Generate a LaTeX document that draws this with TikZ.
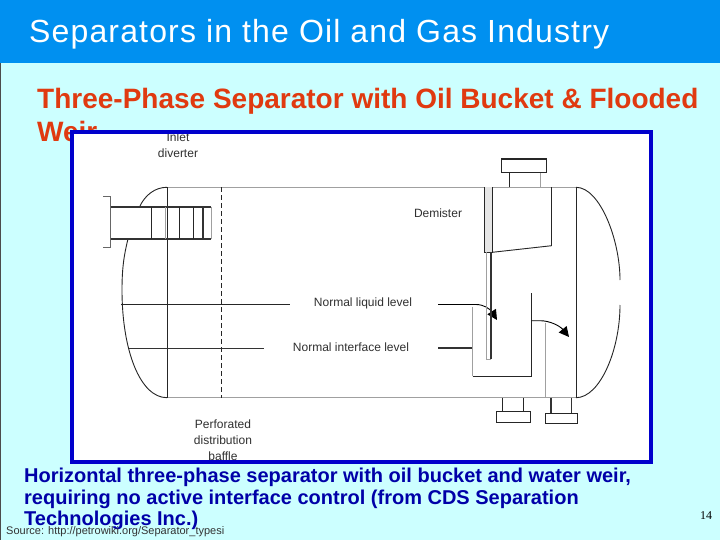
\documentclass[tikz,border=0pt]{standalone}
\usepackage{fontspec}
\setmainfont{Liberation Sans}
\newfontfamily\numfont{Liberation Serif}
\usetikzlibrary{arrows.meta}
\definecolor{slideBg}{HTML}{CCFFFF}
\definecolor{barBlue}{HTML}{0090F0}
\definecolor{frameBlue}{HTML}{0000CC}
\definecolor{headRed}{HTML}{E03A10}
\definecolor{capBlue}{HTML}{0000A8}
\definecolor{wallGrey}{HTML}{A0A0A0}
\definecolor{labelGrey}{HTML}{303030}

\begin{document}
\begin{tikzpicture}[x=1pt, y=-1pt,
  wall/.style={line width=0.9pt, black!85},
  greywall/.style={line width=1pt, wallGrey},
  thickwall/.style={line width=1.3pt, black!80},
  flow/.style={line width=0.9pt, black, -{Triangle[length=10pt,width=10pt]}},
  tag/.style={font=\fontsize{12}{16}\selectfont, text=labelGrey, inner sep=0pt, align=center},
  heading/.style={font=\fontsize{28}{32}\selectfont\bfseries, text=headRed, inner sep=0pt, anchor=base west},
  caption/.style={font=\fontsize{20}{22}\selectfont\bfseries, text=capBlue, inner sep=0pt, anchor=base west}]
  \useasboundingbox (0,0) rectangle (720,540);
  % slide background
  \fill[slideBg] (0,0) rectangle (720,540);
  \fill[barBlue] (0,0) rectangle (720,63);
  \draw[line width=1pt, black!70] (0.5,63) -- (0.5,540);
  \node[font=\fontsize{32}{36}\selectfont\addfontfeature{LetterSpace=3.6}, text=white, inner sep=0pt, anchor=base west] (title) at (29,42.3)
    {Separators in the Oil and Gas Industry};
  \node[heading] (head1) at (37,109) {Three-Phase Separator with Oil Bucket \& Flooded};
  \node[heading] (head2) at (37,141.7) {Weir};
  % picture panel
  \fill[white] (72,132) rectangle (650.7,462);
  % labels
  \node[tag] (inlet) at (178,145) {Inlet\\diverter};
  \node[tag] (demister) at (438,213) {Demister};
  \node[tag] (liquid) at (363,303) {Normal liquid level};
  \node[tag] (interface) at (351,347) {Normal interface level};
  \node[tag] (baffle) at (223,440) {Perforated\\distribution\\baffle};
  % vessel
  \draw[greywall] (167,187.3) -- (576,187.3);
  \draw[greywall, line width=1.2pt] (167,397.7) -- (576,397.7);
  \draw[wall, line width=0.7pt] (167,187.3) -- (167,397.7);
  \draw[wall, line width=0.7pt] (576,187.3) -- (576,397.7);
  \draw[wall] (167,187.3) .. controls (155,187.3) and (145,195) .. (139.5,207);
  \draw[wall] (128,239) .. controls (124,255) and (122,268) .. (122,290)
    .. controls (122,350) and (140,397.7) .. (167,397.7);
  \draw[wall] (576,187.3) .. controls (600,187.3) and (620,240) .. (620,280);
  \draw[wall] (620,305) .. controls (620,350) and (600,397.7) .. (576,397.7);
  % inlet nozzle and diverter
  \draw[thickwall] (211,207) -- (110.6,207) -- (110.6,239) -- (211,239);
  \draw[wall] (151.3,207) -- (151.3,239);
  \draw[greywall] (165,207) -- (165,239);
  \draw[wall] (179,207) -- (179,239);
  \draw[wall, line width=0.7pt] (193.5,207) -- (193.5,239);
  \draw[thickwall, line width=1.5pt] (203,207) -- (203,239);
  \draw[greywall] (211,207) -- (211,239);
  \draw[line width=0.7pt, black!60] (103,196.5) -- (110.6,196.5) -- (110.6,247.5) -- (103,247.5);
  % baffle
  \draw[wall, dash pattern=on 5pt off 3pt] (221.7,187.3) -- (221.7,397.7);
  % levels
  \draw[wall] (121,304.3) -- (290,304.3);
  \draw[thickwall] (129,348.7) -- (264,348.7);
  \draw[flow] (438,304.5) -- (476,304.5) .. controls (484,304.5) and (490,309) .. (497,320);
  \draw[thickwall] (438,348) -- (472.7,348);
  % demister, plate, bucket, weir
  \fill[black!10] (484.3,187.3) rectangle (492.3,252.3);
  \draw[wall, line width=0.7pt] (484.3,187.3) -- (484.3,252.3) -- (492.3,252.3) -- (492.3,187.3);
  \draw[wall] (492.3,252.3) -- (551.7,245.7);
  \draw[wall, line width=0.7pt] (551.7,245.7) -- (551.7,187.3);
  \draw[greywall, line width=0.8pt] (486.3,252.3) -- (486.3,359.3) -- (491,359.3);
  \draw[thickwall] (491,252.3) -- (491,359.3);
  \draw[greywall] (472.7,306.7) -- (472.7,376);
  \draw[wall] (472.7,376) -- (531.7,376) -- (531.7,293);
  \draw[flow] (531.7,320.7) -- (540,320.7) .. controls (550,320.7) and (560,326) .. (569,337);
  \draw[greywall] (545.7,322.7) -- (545.7,397.7);
  % outlet nozzles
  \draw[wall] (509.7,173) -- (509.7,187.3);
  \draw[greywall] (540,173) -- (540,187.3);
  \draw[wall, line width=1.1pt] (501.3,159) rectangle (546.7,172.7);
  \draw[wall, line width=0.7pt] (502.3,397.7) -- (502.3,411.7);
  \draw[wall, line width=0.7pt] (523.7,397.7) -- (523.7,411.7);
  \draw[wall] (496.7,411.7) rectangle (530,422.3);
  \draw[thickwall] (551,397.7) -- (551,413);
  \draw[thickwall] (571.3,397.7) -- (571.3,413);
  \draw[wall] (545.7,413) rectangle (577.3,423);
  % frame
  \draw[frameBlue, line width=4pt] (72,132) rectangle (650.7,462);
  % caption
  \node[caption] (cap1) at (24,482.7) {Horizontal three-phase separator with oil bucket and water weir,};
  \node[caption] (cap2) at (24,504.2) {requiring no active interface control (from CDS Separation};
  \node[caption] (cap3) at (24,525.7) {Technologies Inc.)};
  \node[font=\fontsize{11}{12}\selectfont, text=black!80, inner sep=0pt, anchor=base west] (source) at (6,534)
    {Source: http://petrowiki.org/Separator\_typesi};
  \node[font=\numfont\fontsize{12}{14}\selectfont, inner sep=0pt] (page) at (706,516) {14};
\end{tikzpicture}
\end{document}
